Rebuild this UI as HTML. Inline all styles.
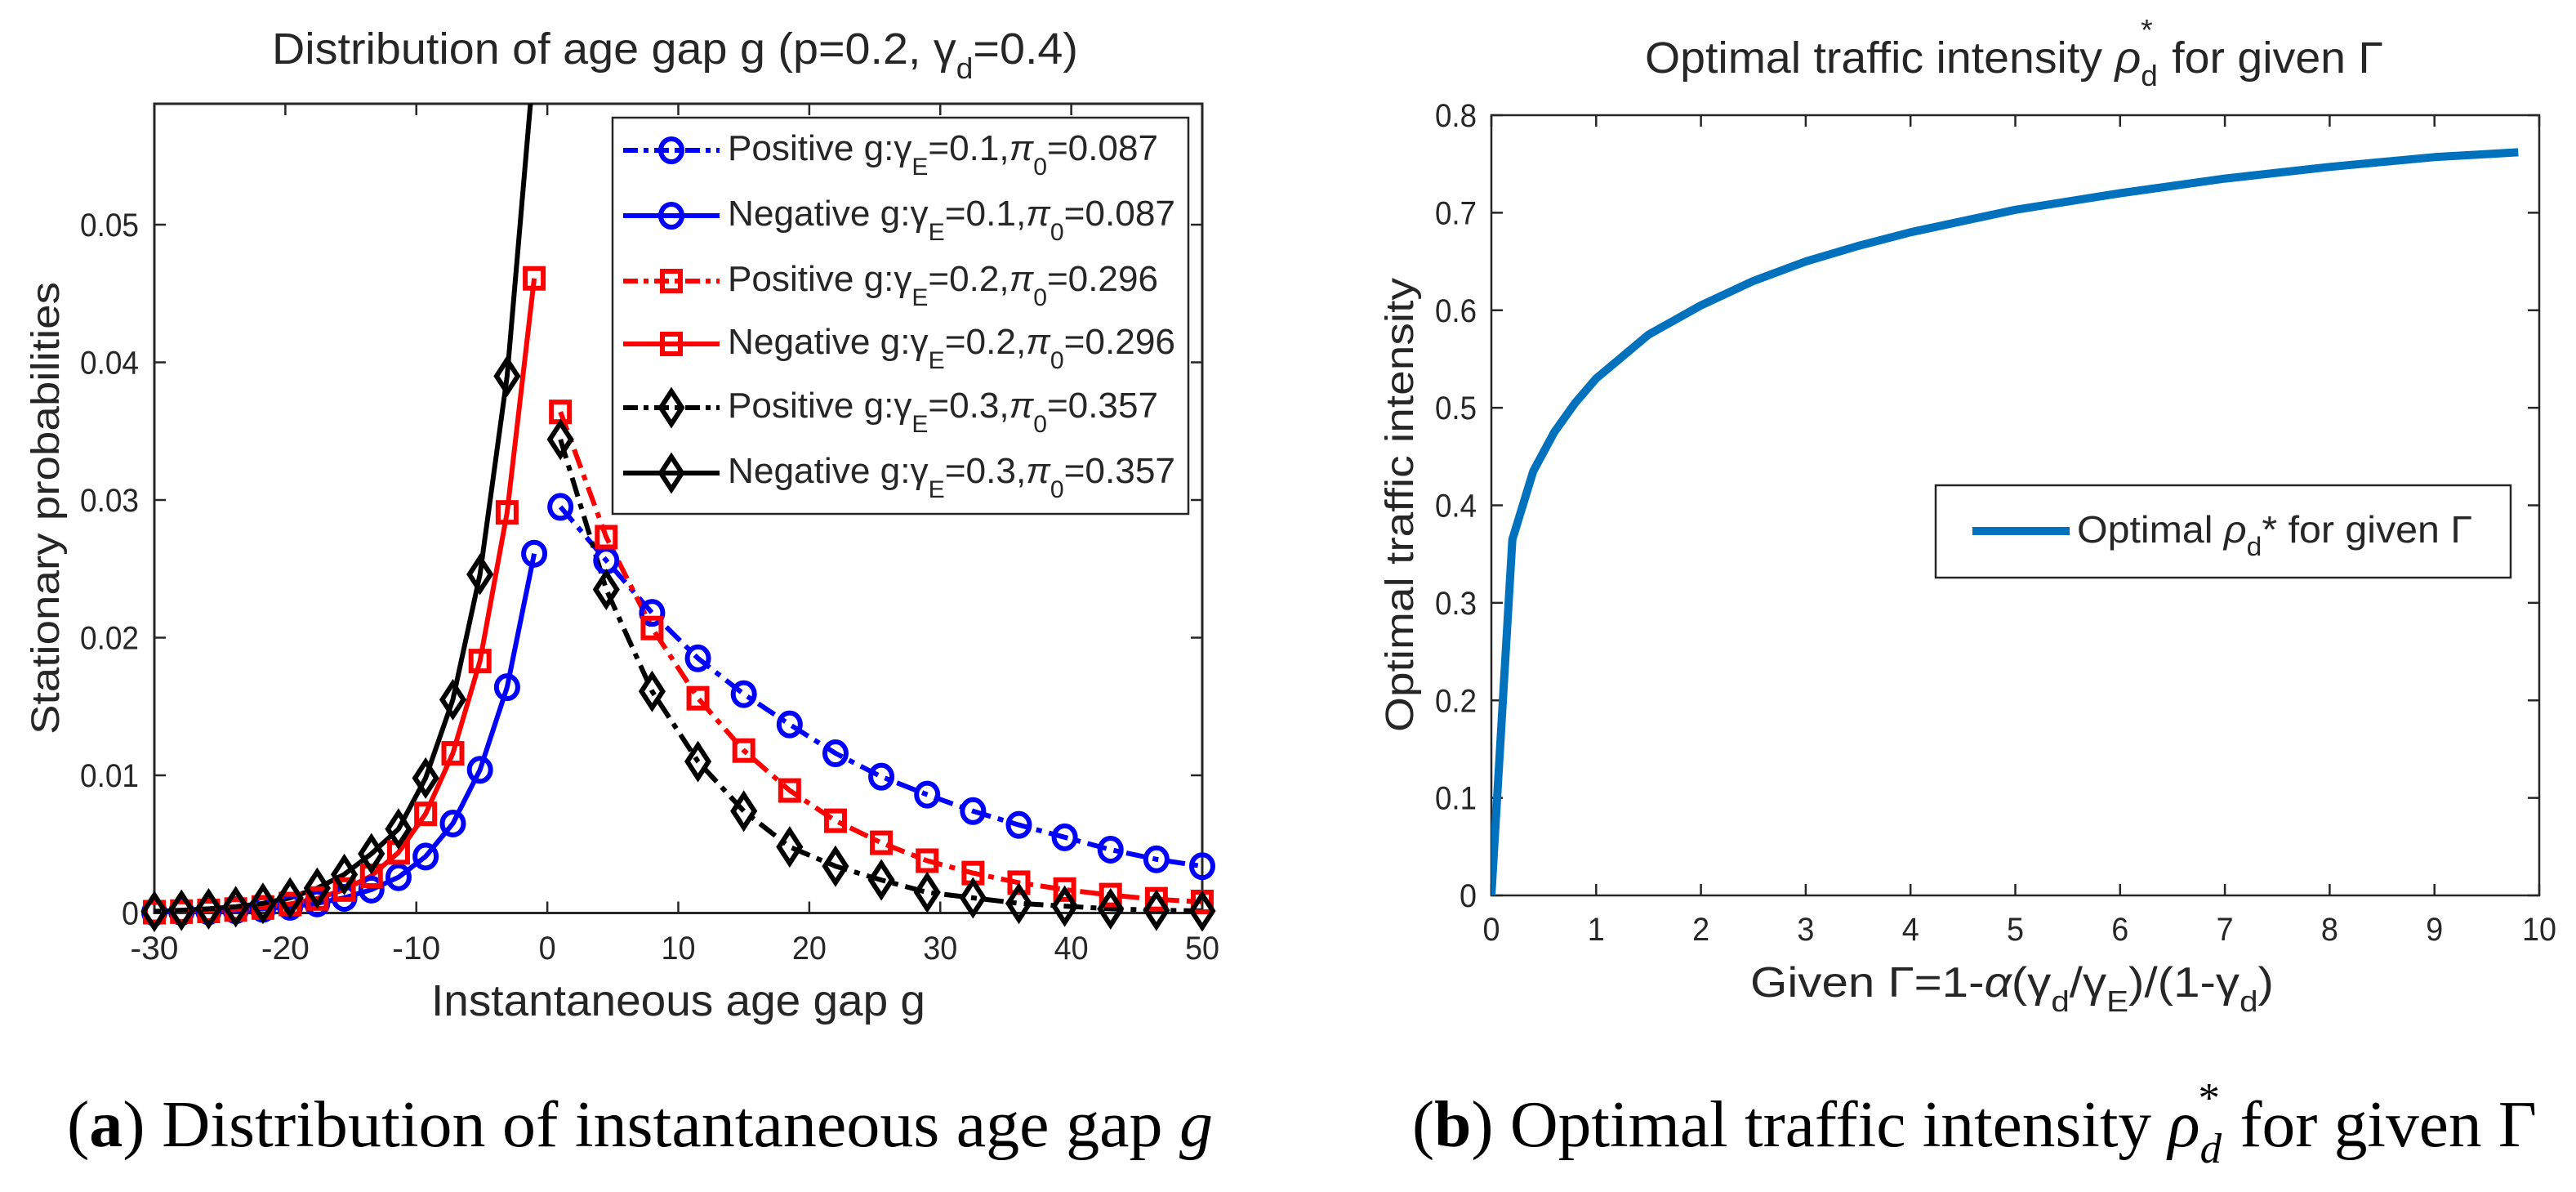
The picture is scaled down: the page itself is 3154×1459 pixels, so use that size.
<!DOCTYPE html>
<html><head><meta charset="utf-8"><title>Age gap figure</title>
<style>
html,body{margin:0;padding:0;background:#fff;}
svg{display:block;}
text{font-family:"Liberation Sans",sans-serif;fill:#262626;}
.cap{font-family:"Liberation Serif",serif;fill:#000;}
</style></head>
<body>
<svg id="fig" width="3154" height="1459" viewBox="0 0 3154 1459" xmlns="http://www.w3.org/2000/svg">
<defs>
<clipPath id="clipA"><rect x="189" y="127" width="1283" height="991"/></clipPath>
<clipPath id="clipB"><rect x="1826" y="141" width="1283" height="955"/></clipPath>
</defs>
<rect x="0" y="0" width="3154" height="1459" fill="#fff"/>

<!-- Panel A -->
<g id="panelA">
<text x="333" y="78" font-size="54" textLength="987" lengthAdjust="spacingAndGlyphs" fill="#000">Distribution of age gap g (p=0.2, γ<tspan font-size="36" dy="18">d</tspan><tspan dy="-18">=0.4)</tspan></text>
<text x="0" y="0" font-size="48" textLength="554" lengthAdjust="spacingAndGlyphs" text-anchor="middle" transform="translate(72,622) rotate(-90)">Stationary probabilities</text>
<text x="528" y="1243" font-size="54" textLength="605" lengthAdjust="spacingAndGlyphs">Instantaneous age gap g</text>
<g id="axA"></g>
<g id="seriesA" clip-path="url(#clipA)"></g>
<g id="markersA"></g>
<g id="legendA"></g>
</g>

<!-- Panel B -->
<g id="panelB">
<text x="2014" y="89" font-size="54" textLength="904" lengthAdjust="spacingAndGlyphs" fill="#000">Optimal traffic intensity <tspan font-style="italic">ρ</tspan><tspan font-size="36" dy="16">d</tspan><tspan font-size="36" dx="-20" dy="-56">*</tspan><tspan dy="40" dx="8"> for given Γ</tspan></text>
<text x="0" y="0" font-size="48" textLength="556" lengthAdjust="spacingAndGlyphs" text-anchor="middle" transform="translate(1730,618) rotate(-90)">Optimal traffic intensity</text>
<text x="2143" y="1220" font-size="52" textLength="641" lengthAdjust="spacingAndGlyphs">Given Γ=1-<tspan font-style="italic">α</tspan>(γ<tspan font-size="36" dy="18">d</tspan><tspan dy="-18">/γ</tspan><tspan font-size="36" dy="18">E</tspan><tspan dy="-18">)/(1-γ</tspan><tspan font-size="36" dy="18">d</tspan><tspan dy="-18">)</tspan></text>
<g id="axB"></g>
<g id="seriesB" clip-path="url(#clipB)"></g>
<g id="legendB">
<rect x="2370" y="594" width="704" height="113" fill="#fff" stroke="#262626" stroke-width="2.5"/>
<line x1="2415" y1="650" x2="2534" y2="650" stroke="#0072BD" stroke-width="10"/>
<text x="2543" y="664" font-size="46" textLength="484" lengthAdjust="spacingAndGlyphs" fill="#000">Optimal <tspan font-style="italic">ρ</tspan><tspan font-size="32" dy="16">d</tspan><tspan dy="-16">* for given Γ</tspan></text>
</g>
</g>

<!-- Captions -->
<text class="cap" x="82" y="1403" font-size="80" textLength="1403" lengthAdjust="spacingAndGlyphs">(<tspan font-weight="bold">a</tspan>) Distribution of instantaneous age gap <tspan font-style="italic">g</tspan></text>
<text class="cap" x="1729" y="1403" font-size="80" textLength="1377" lengthAdjust="spacingAndGlyphs">(<tspan font-weight="bold">b</tspan>) Optimal traffic intensity <tspan font-style="italic">ρ</tspan><tspan font-size="52" font-style="italic" dy="20">d</tspan><tspan font-size="52" dx="-28" dy="-62">*</tspan><tspan dy="42" dx="4"> for given Γ</tspan></text>
</svg>

<script>
// ---------- Panel A data ----------
const gNeg = [-30,-27.93,-25.86,-23.79,-21.71,-19.64,-17.57,-15.5,-13.43,-11.36,-9.29,-7.21,-5.14,-3.07,-1];
const gPos = [1,4.5,8,11.5,15,18.5,22,25.5,29,32.5,36,39.5,43,46.5,50];
const blueNeg = [0.00005,0.00008,0.00012,0.0002,0.0003,0.00045,0.0007,0.0011,0.0017,0.0026,0.0041,0.0065,0.0104,0.0164,0.0261];
const redNeg  = [0.00006,0.0001,0.00015,0.00025,0.0004,0.00065,0.00105,0.0017,0.0027,0.0044,0.0072,0.0116,0.0183,0.0291,0.0461];
const blackNeg= [0.00012,0.0002,0.0003,0.00045,0.0007,0.0011,0.0018,0.0028,0.0043,0.0061,0.0098,0.0155,0.0246,0.039,0.062];
const bluePos = [0.0295,0.0256,0.0218,0.0185,0.0159,0.0137,0.0116,0.0099,0.0086,0.0074,0.0064,0.0055,0.0046,0.0039,0.0034];
const redPos  = [0.0364,0.0273,0.0207,0.0156,0.0118,0.0089,0.0067,0.0051,0.0038,0.0029,0.0022,0.0017,0.0013,0.001,0.0008];
const blackPos= [0.0344,0.0235,0.0161,0.011,0.0074,0.0048,0.0034,0.0024,0.0015,0.0011,0.0007,0.0005,0.0003,0.0002,0.00015];
const xTicksA = [-30,-20,-10,0,10,20,30,40,50];
const yTicksA = [0,0.01,0.02,0.03,0.04,0.05];
const yTickLabelsA = ["0","0.01","0.02","0.03","0.04","0.05"];
const legendLabelsA = [
 ["Positive g:γ","0.1","0.087"],["Negative g:γ","0.1","0.087"],
 ["Positive g:γ","0.2","0.296"],["Negative g:γ","0.2","0.296"],
 ["Positive g:γ","0.3","0.357"],["Negative g:γ","0.3","0.357"]];

// ---------- Panel B data ----------
const gammaB = [0,0.2,0.4,0.6,0.8,1,1.5,2,2.5,3,3.5,4,5,6,7,8,9,9.8];
const rhoB   = [0,0.365,0.435,0.475,0.505,0.53,0.575,0.605,0.63,0.65,0.666,0.68,0.703,0.72,0.735,0.747,0.757,0.762];
const xTicksB = [0,1,2,3,4,5,6,7,8,9,10];
const yTicksB = [0,0.1,0.2,0.3,0.4,0.5,0.6,0.7,0.8];
const yTickLabelsB = ["0","0.1","0.2","0.3","0.4","0.5","0.6","0.7","0.8"];

const NS = "http://www.w3.org/2000/svg";
function mk(tag, attrs, parent){const e=document.createElementNS(NS,tag);for(const k in attrs)e.setAttribute(k,attrs[k]);parent.appendChild(e);return e;}
function tlen(s){let w=0;for(const c of s){w+= (c==='.')?9:(c==='-')?17:21;}return w;}

const A = {x0:189,x1:1472,y0:1117.5,yTop:127,xmin:-30,xmax:50};
const xA = v => A.x0 + (v - A.xmin)/(A.xmax-A.xmin)*(A.x1-A.x0);
const yA = v => A.y0 - v*16850;
const B = {x0:1826,x1:3109,y0:1096,y1:141};
const xB = v => B.x0 + v/10*(B.x1-B.x0);
const yB = v => B.y0 - v/0.8*(B.y0-B.y1);

const axA = document.getElementById('axA');
let r = mk('rect',{x:A.x0,y:A.yTop,width:A.x1-A.x0,height:A.y0-A.yTop,fill:'none',stroke:'#262626','stroke-width':3},axA);


xTicksA.forEach(t=>{
  const x=xA(t);
  let l=mk('line',{x1:x,y1:A.y0,x2:x,y2:A.y0-14,stroke:'#262626','stroke-width':2.5},axA);
  
  
  let l2=mk('line',{x1:x,y1:A.yTop,x2:x,y2:A.yTop+14,stroke:'#262626','stroke-width':2.5},axA);
  
  
  const s=String(t);
  let tx=mk('text',{x:x,y:1174,'font-size':40,'text-anchor':'middle',textLength:tlen(s),lengthAdjust:'spacingAndGlyphs'},axA);
  tx.textContent=s;
  
  
});
yTicksA.forEach((t,i)=>{
  const y=yA(t);
  let l=mk('line',{x1:A.x0,y1:y,x2:A.x0+14,y2:y,stroke:'#262626','stroke-width':2.5},axA);
  
  
  let l2=mk('line',{x1:A.x1,y1:y,x2:A.x1-14,y2:y,stroke:'#262626','stroke-width':2.5},axA);
  
  
  const s=yTickLabelsA[i];
  let tx=mk('text',{x:170,y:y+14,'font-size':40,'text-anchor':'end',textLength:tlen(s),lengthAdjust:'spacingAndGlyphs'},axA);
  tx.textContent=s;
  
  
});

const DASHDOT = "24,9,7,9";
const seriesDefs = [
 {xs:gPos,ys:bluePos,color:'#0000ff',dash:DASHDOT,m:'circle',name:'positive-gamma-0.1'},
 {xs:gNeg,ys:blueNeg,color:'#0000ff',dash:'',m:'circle',name:'negative-gamma-0.1'},
 {xs:gPos,ys:redPos,color:'#ff0000',dash:DASHDOT,m:'square',name:'positive-gamma-0.2'},
 {xs:gNeg,ys:redNeg,color:'#ff0000',dash:'',m:'square',name:'negative-gamma-0.2'},
 {xs:gPos,ys:blackPos,color:'#000000',dash:DASHDOT,m:'diamond',name:'positive-gamma-0.3'},
 {xs:gNeg,ys:blackNeg,color:'#000000',dash:'',m:'diamond',name:'negative-gamma-0.3'}];

function marker(type,x,y,color,parent){
  let e;
  if(type==='circle') e=mk('ellipse',{cx:x,cy:y,rx:13,ry:14,fill:'none',stroke:color,'stroke-width':6},parent);
  else if(type==='square') e=mk('rect',{x:x-11,y:y-12,width:22,height:24,fill:'none',stroke:color,'stroke-width':6},parent);
  else e=mk('polygon',{points:`${x},${y-20} ${x+13},${y} ${x},${y+20} ${x-13},${y}`,fill:'none',stroke:color,'stroke-width':6},parent);
  return e;
}

const seriesA=document.getElementById('seriesA'), markersA=document.getElementById('markersA');
seriesDefs.forEach(s=>{
  const pts=s.xs.map((g,i)=>`${xA(g).toFixed(1)},${yA(s.ys[i]).toFixed(1)}`).join(' ');
  const attrs={points:pts,fill:'none',stroke:s.color,'stroke-width':6,'stroke-linejoin':'round'};
  if(s.dash) attrs['stroke-dasharray']=s.dash;
  let pl=mk('polyline',attrs,seriesA);
  
  
  s.xs.forEach((g,i)=>{
    const y=yA(s.ys[i]);
    if(y<A.yTop) return;
    let m=marker(s.m,xA(g),y,s.color,markersA);
    
    
  });
});

const legA=document.getElementById('legendA');
let lb=mk('rect',{x:750,y:144,width:705,height:485,fill:'#fff',stroke:'#262626','stroke-width':2.5},legA);


const legBase=[196,276,356,433,511,591];
seriesDefs.forEach((s,i)=>{
  const yb=legBase[i], yl=yb-12;
  const attrs={x1:763,y1:yl,x2:881,y2:yl,stroke:s.color,'stroke-width':6};
  if(s.dash) attrs['stroke-dasharray']="18,7,6,7";
  let l=mk('line',attrs,legA);
  
  
  let m=marker(s.m,822,yl,s.color,legA);
  
  
  const lab=legendLabelsA[i];
  const len=lab[0].startsWith('Pos')?527:548;
  let t=mk('text',{x:891,y:yb,'font-size':44,fill:'#000',textLength:len,lengthAdjust:'spacingAndGlyphs'},legA);
  
  
  t.innerHTML=`${lab[0]}<tspan font-size="30" dy="18">E</tspan><tspan dy="-18">=${lab[1]},</tspan><tspan font-style="italic">π</tspan><tspan font-size="30" dy="18">0</tspan><tspan dy="-18">=${lab[2]}</tspan>`;
});

const axB=document.getElementById('axB');
let rb=mk('rect',{x:B.x0,y:B.y1,width:B.x1-B.x0,height:B.y0-B.y1,fill:'none',stroke:'#262626','stroke-width':2.5},axB);


xTicksB.forEach(t=>{
  const x=xB(t);
  let l=mk('line',{x1:x,y1:B.y0,x2:x,y2:B.y0-14,stroke:'#262626','stroke-width':2.5},axB);
  
  
  let l2=mk('line',{x1:x,y1:B.y1,x2:x,y2:B.y1+14,stroke:'#262626','stroke-width':2.5},axB);
  
  
  const s=String(t);
  let tx=mk('text',{x:x,y:1151,'font-size':40,'text-anchor':'middle',textLength:tlen(s),lengthAdjust:'spacingAndGlyphs'},axB);
  tx.textContent=s;
  
  
});
yTicksB.forEach((t,i)=>{
  const y=yB(t);
  let l=mk('line',{x1:B.x0,y1:y,x2:B.x0+14,y2:y,stroke:'#262626','stroke-width':2.5},axB);
  
  
  let l2=mk('line',{x1:B.x1,y1:y,x2:B.x1-14,y2:y,stroke:'#262626','stroke-width':2.5},axB);
  
  
  const s=yTickLabelsB[i];
  let tx=mk('text',{x:1808,y:y+14,'font-size':40,'text-anchor':'end',textLength:tlen(s),lengthAdjust:'spacingAndGlyphs'},axB);
  tx.textContent=s;
  
  
});
const seriesB=document.getElementById('seriesB');
let cb=mk('polyline',{points:gammaB.map((g,i)=>`${xB(g).toFixed(1)},${yB(rhoB[i]).toFixed(1)}`).join(' '),fill:'none',stroke:'#0072BD','stroke-width':10,'stroke-linejoin':'round'},seriesB);


document.getElementById('panelB').appendChild(document.getElementById('legendB'));
</script>
</body></html>
